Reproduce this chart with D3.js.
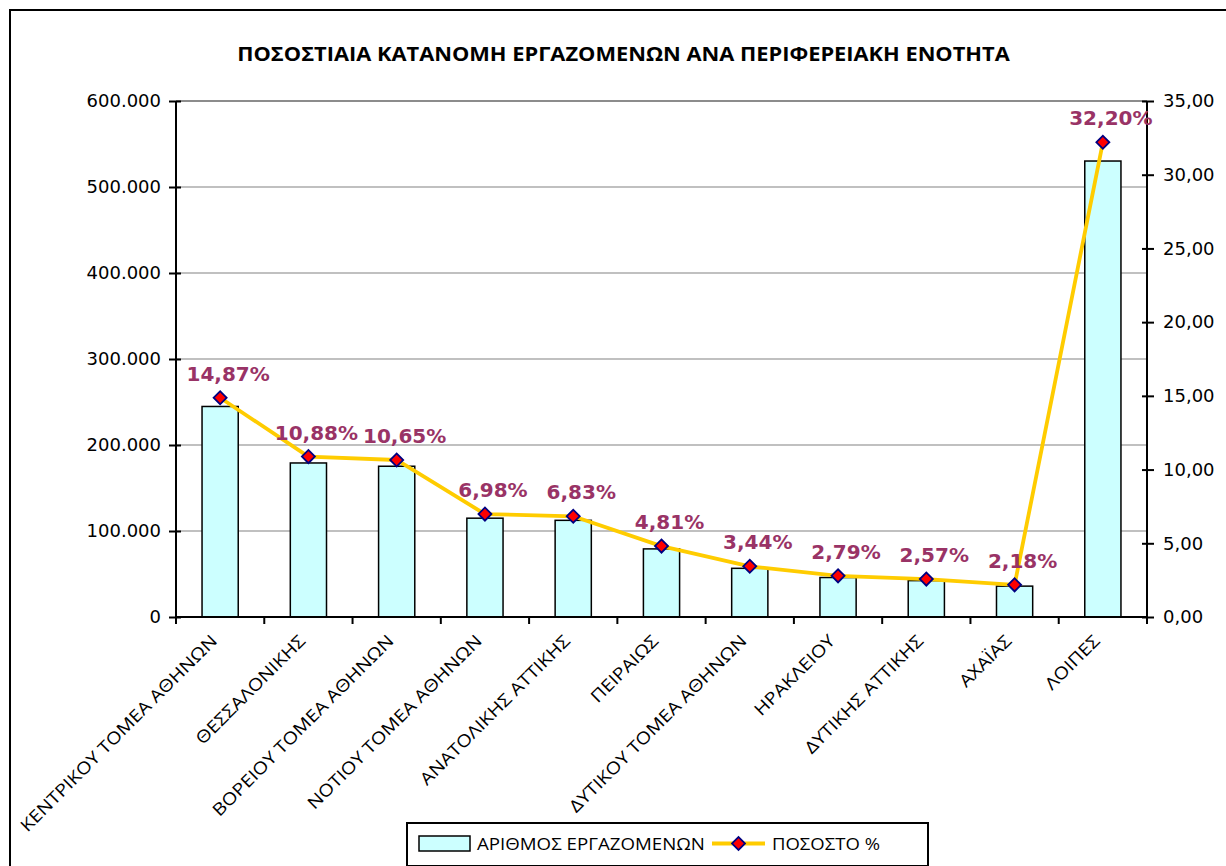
<!DOCTYPE html>
<html>
<head>
<meta charset="utf-8">
<script src="https://cdn.jsdelivr.net/npm/d3@7"></script>
<style>
  html, body { margin: 0; padding: 0; background: #fff; }
  svg { display: block; }
</style>
</head>
<body>
<script>
const categories = [
  "ΚΕΝΤΡΙΚΟΥ ΤΟΜΕΑ ΑΘΗΝΩΝ", "ΘΕΣΣΑΛΟΝΙΚΗΣ", "ΒΟΡΕΙΟΥ ΤΟΜΕΑ ΑΘΗΝΩΝ",
  "ΝΟΤΙΟΥ ΤΟΜΕΑ ΑΘΗΝΩΝ", "ΑΝΑΤΟΛΙΚΗΣ ΑΤΤΙΚΗΣ", "ΠΕΙΡΑΙΩΣ",
  "ΔΥΤΙΚΟΥ ΤΟΜΕΑ ΑΘΗΝΩΝ", "ΗΡΑΚΛΕΙΟΥ", "ΔΥΤΙΚΗΣ ΑΤΤΙΚΗΣ", "ΑΧΑΪΑΣ", "ΛΟΙΠΕΣ"
];
const employees = [244800, 179100, 175300, 114900, 112400, 79200, 56600, 45900, 42300, 35900, 530200];
const percents = [14.87, 10.88, 10.65, 6.98, 6.83, 4.81, 3.44, 2.79, 2.57, 2.18, 32.20];
const leftTicks = [0, 100000, 200000, 300000, 400000, 500000, 600000];
const rightTicks = [0, 5, 10, 15, 20, 25, 30, 35];
const title = "ΠΟΣΟΣΤΙΑΙΑ ΚΑΤΑΝΟΜΗ ΕΡΓΑΖΟΜΕΝΩΝ ΑΝΑ ΠΕΡΙΦΕΡΕΙΑΚΗ ΕΝΟΤΗΤΑ";
const seriesNames = ["ΑΡΙΘΜΟΣ ΕΡΓΑΖΟΜΕΝΩΝ", "ΠΟΣΟΣΤΟ %"];

const W = 1226, H = 866;
const L = 176, R = 1147, T = 101, B = 617;
const human = "'Open Sans', 'Noto Sans', sans-serif";
const wide = "'DejaVu Sans', Verdana, sans-serif";

const loc = d3.formatLocale({decimal: ",", thousands: ".", grouping: [3], currency: ["", "€"]});
const fmtLeft = loc.format(",");
const fmt2 = loc.format(".2f");

const svg = d3.select("body").append("svg").attr("width", W).attr("height", H);

// horizontal compression factor so a text node spans a target width
function squeeze(node, target) { return target / node.getComputedTextLength(); }

// outer chart border
svg.append("rect").attr("x", 10).attr("y", 10).attr("width", W + 20).attr("height", H + 20)
  .attr("fill", "#fff").attr("stroke", "#000").attr("stroke-width", 2);

const x = d3.scaleBand().domain(categories).range([L, R]).paddingInner(0.59).paddingOuter(0.295);
const yL = d3.scaleLinear().domain([0, 600000]).range([B, T]);
const yR = d3.scaleLinear().domain([0, 35]).range([B, T]);

// gridlines
svg.append("g").selectAll("line").data(leftTicks.filter(d => d > 0)).join("line")
  .attr("x1", L).attr("x2", R).attr("y1", d => yL(d)).attr("y2", d => yL(d))
  .attr("stroke", d => d === 600000 ? "#8c8c8c" : "#c0c0c0").attr("stroke-width", 2);

// bars
svg.append("g").selectAll("rect").data(employees).join("rect")
  .attr("x", (d, i) => x(categories[i])).attr("width", x.bandwidth())
  .attr("y", d => yL(d)).attr("height", d => yL(0) - yL(d))
  .attr("fill", "#ccffff").attr("stroke", "#000").attr("stroke-width", 1.5);

// left axis
const axL = d3.axisLeft(yL).tickValues(leftTicks).tickFormat(fmtLeft).tickSize(7).tickPadding(8);
const gL = svg.append("g").attr("transform", `translate(${L},0)`).call(axL);
gL.select(".domain").attr("stroke", "#000").attr("stroke-width", 2).attr("d", `M0,${T}V${B}`);
gL.selectAll(".tick line").attr("stroke-width", 2).attr("x2", -7).attr("x1", 5);
gL.selectAll(".tick text").attr("font-family", wide).attr("font-size", 18).attr("fill", "#000");

// right axis
const axR = d3.axisRight(yR).tickValues(rightTicks).tickFormat(fmt2).tickSize(7).tickPadding(9);
const gR = svg.append("g").attr("transform", `translate(${R},0)`).call(axR);
gR.select(".domain").attr("stroke", "#000").attr("stroke-width", 2).attr("d", `M0,${T}V${B}`);
gR.selectAll(".tick line").attr("stroke-width", 2).attr("x1", -5).attr("x2", 7);
gR.selectAll(".tick text").attr("font-family", wide).attr("font-size", 18).attr("fill", "#000");

// x axis
const gX = svg.append("g");
gX.append("line").attr("x1", L).attr("x2", R).attr("y1", B).attr("y2", B).attr("stroke", "#000").attr("stroke-width", 2);
gX.selectAll("line.t").data(d3.range(categories.length + 1)).join("line").attr("class", "t")
  .attr("x1", i => L + i * x.step()).attr("x2", i => L + i * x.step())
  .attr("y1", B).attr("y2", B + 7).attr("stroke", "#000").attr("stroke-width", 2);
const xl = gX.selectAll("text").data(categories).join("text")
  .attr("text-anchor", "end")
  .attr("font-family", human).attr("font-size", 17).attr("fill", "#000")
  .text(d => d);
const sxl = squeeze(xl.nodes()[0], 270);
xl.attr("transform", d => `translate(${x(d) + x.bandwidth() / 2 - 2},${B + 25}) rotate(-45) scale(${sxl},1)`);

// line
const pts = percents.map((p, i) => [x(categories[i]) + x.bandwidth() / 2, yR(p)]);
svg.append("path").attr("d", d3.line()(pts))
  .attr("fill", "none").attr("stroke", "#ffcc00").attr("stroke-width", 3.8)
  .attr("stroke-linejoin", "round");

const diamond = d3.symbol().type(d3.symbolSquare).size(85);
svg.append("g").selectAll("path").data(pts).join("path")
  .attr("d", diamond).attr("transform", d => `translate(${d[0]},${d[1]}) rotate(45)`)
  .attr("fill", "#ff0000").attr("stroke", "#000080").attr("stroke-width", 1.8);

// data labels
svg.append("g").selectAll("text").data(percents).join("text")
  .attr("x", (d, i) => pts[i][0] + 8).attr("y", (d, i) => pts[i][1] - 17)
  .attr("text-anchor", "middle").attr("font-family", wide).attr("font-weight", "bold")
  .attr("font-size", 20).attr("fill", "#993366")
  .text(d => fmt2(d) + "%");

// title
const tt = svg.append("text").attr("text-anchor", "middle")
  .attr("font-family", human).attr("font-weight", "bold").attr("font-size", 20).attr("fill", "#000")
  .text(title);
tt.attr("transform", `translate(623.5,61) scale(${squeeze(tt.node(), 773)},1)`);

// legend
const lg = svg.append("g");
lg.append("rect").attr("x", 407).attr("y", 823).attr("width", 521).attr("height", 43)
  .attr("fill", "#fff").attr("stroke", "#000").attr("stroke-width", 2);
lg.append("rect").attr("x", 419).attr("y", 836).attr("width", 51).attr("height", 15)
  .attr("fill", "#ccffff").attr("stroke", "#000").attr("stroke-width", 1.5);
const lt1 = lg.append("text").attr("font-family", human).attr("font-size", 17)
  .attr("fill", "#000").text(seriesNames[0]);
lt1.attr("transform", `translate(477,850) scale(${squeeze(lt1.node(), 228)},1)`);
lg.append("line").attr("x1", 712).attr("x2", 765).attr("y1", 843.5).attr("y2", 843.5)
  .attr("stroke", "#ffcc00").attr("stroke-width", 3.8);
lg.append("path").attr("d", diamond).attr("transform", "translate(738.5,843.5) rotate(45)")
  .attr("fill", "#ff0000").attr("stroke", "#000080").attr("stroke-width", 1.8);
const lt2 = lg.append("text").attr("font-family", human).attr("font-size", 17)
  .attr("fill", "#000").text(seriesNames[1]);
lt2.attr("transform", `translate(772,850) scale(${squeeze(lt2.node(), 108)},1)`);
</script>
</body>
</html>
